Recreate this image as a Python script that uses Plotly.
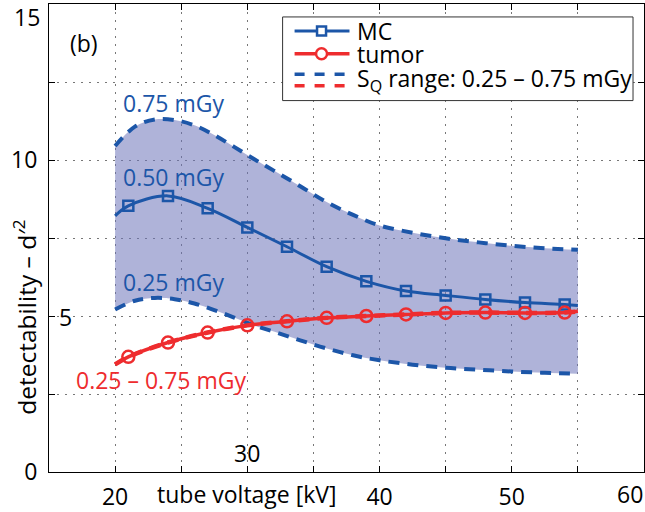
import plotly.graph_objects as go

# ---------------- data ----------------
# smooth curves: tube voltage [kV] -> detectability d'^2
curve_kv = [20, 21, 24, 27, 30, 33, 36, 39, 42, 45, 48, 51, 54, 55]
mc_curve = [8.21, 8.53, 8.85, 8.45, 7.84, 7.22, 6.58, 6.11, 5.80, 5.66, 5.53, 5.43, 5.37, 5.34]
tumor_curve = [3.45, 3.69, 4.15, 4.47, 4.70, 4.83, 4.94, 5.00, 5.05, 5.10, 5.11, 5.10, 5.11, 5.15]

# S_Q range bounds (dashed)
range_kv = [20, 21.5, 23, 24.5, 26, 27.5, 29, 30.5, 32, 34, 36, 38, 40, 42.5, 45, 47.5, 50, 52.5, 55]
mc_hi = [10.45, 11.07, 11.30, 11.28, 11.11, 10.80, 10.42, 10.03, 9.66, 9.16, 8.65, 8.24, 7.90, 7.67, 7.49, 7.36, 7.25, 7.17, 7.12]
mc_lo = [5.21, 5.49, 5.58, 5.54, 5.40, 5.19, 4.95, 4.70, 4.50, 4.22, 3.96, 3.74, 3.58, 3.44, 3.34, 3.28, 3.22, 3.18, 3.15]

x_major_ticks = [20, 40, 50]
x_minor_ticks = [25, 30, 35, 45, 55]
y_major_ticks = [0, 10]
y_minor_ticks = [2.5, 5, 7.5, 12.5, 15]

legend_labels = ["MC", "tumor", "S<sub>Q</sub> range: 0.25 \u2013 0.75 mGy"]

# ---------------- style ----------------
BLUE = "#1C56A8"
RED = "#EE2C2E"
FILL = "rgba(110,116,186,0.55)"
FONT = "Open Sans"
FS = 23

W, H = 645, 512
ML, MR, MT, MB = 49, 0, 4, 38
PW, PH = W - ML - MR, H - MT - MB


def px(x):
    return (x - ML) / PW


def py(y):
    return (MT + PH - y) / PH


fig = go.Figure()

# range band (blue)
fig.add_trace(go.Scatter(x=range_kv, y=mc_lo, mode="lines", line=dict(color=BLUE, width=4, dash="11px,8px", shape="spline"), showlegend=False))
fig.add_trace(go.Scatter(x=range_kv, y=mc_hi, mode="lines", fill="tonexty", fillcolor=FILL,
                         line=dict(color=BLUE, width=4, dash="11px,8px", shape="spline"), showlegend=False))

# MC curve
fig.add_trace(go.Scatter(x=curve_kv, y=mc_curve, mode="lines", line=dict(color=BLUE, width=3, shape="spline"), showlegend=False))
fig.add_trace(go.Scatter(x=curve_kv[1:-1], y=mc_curve[1:-1], mode="markers",
                         marker=dict(symbol="square-open", size=10, color=BLUE, line=dict(width=2.5, color=BLUE)), showlegend=False))

# tumor range (dashed red, coincides with tumor curve)
fig.add_trace(go.Scatter(x=curve_kv, y=tumor_curve, mode="lines", line=dict(color=RED, width=4.5, dash="11px,8px", shape="spline"), showlegend=False))
# tumor curve
fig.add_trace(go.Scatter(x=curve_kv, y=tumor_curve, mode="lines", line=dict(color=RED, width=3.5, shape="spline"), showlegend=False))
fig.add_trace(go.Scatter(x=curve_kv[1:-1], y=tumor_curve[1:-1], mode="markers",
                         marker=dict(symbol="circle-open", size=12, color=RED, line=dict(width=2.5, color=RED)), showlegend=False))

grid_style = dict(showgrid=True, gridcolor="#777777", gridwidth=1, griddash="1.5px,6.5px")
axis_common = dict(showline=True, linecolor="black", linewidth=1, mirror="allticks",
                   ticks="inside", ticklen=6, tickcolor="black", tickwidth=1,
                   zeroline=False, tickfont=dict(family=FONT, size=FS, color="black"), **grid_style)

fig.update_xaxes(range=[15, 60], tickvals=x_major_ticks, ticklabelstandoff=4,
                 minor=dict(tickvals=x_minor_ticks, ticks="inside", ticklen=6, tickcolor="black", tickwidth=1, **grid_style),
                 **axis_common)
fig.update_yaxes(range=[0, 15], tickvals=y_major_ticks, ticklabelstandoff=6,
                 minor=dict(tickvals=y_minor_ticks, ticks="inside", ticklen=6, tickcolor="black", tickwidth=1, **grid_style),
                 **axis_common)

ann = []


def text(s, x, y, color="black", size=FS, xanchor="center", angle=0):
    ann.append(dict(text=s, x=px(x), y=py(y), xref="paper", yref="paper", showarrow=False,
                    xanchor=xanchor, yanchor="middle", textangle=angle,
                    font=dict(family=FONT, size=size, color=color)))


text("(b)", 84, 43)
text("0.75 mGy", 174, 103, BLUE)
text("0.50 mGy", 174, 178, BLUE)
text("0.25 mGy", 174, 283, BLUE)
text("0.25 \u2013 0.75 mGy", 161, 382, RED)
text("30", 247, 455)
text("60", 631, 496)
text("5", 66, 318)
text("15", 42, 17, xanchor="right")
text("tube voltage [kV]", 247, 496)
text("detectability \u2013 d\u2032<sup>2</sup>", 25, 319, size=24.5, angle=-90)

# manual legend
shapes = []
shapes.append(dict(type="rect", xref="paper", yref="paper", x0=px(283), x1=px(634), y0=py(17), y1=py(101),
                   line=dict(color="#333333", width=1), fillcolor="white", layer="above"))
shapes.append(dict(type="line", xref="paper", yref="paper", x0=px(295), x1=px(350), y0=py(31), y1=py(31),
                   line=dict(color=BLUE, width=3)))
shapes.append(dict(type="rect", xref="paper", yref="paper", xsizemode="pixel", ysizemode="pixel",
                   xanchor=px(322), yanchor=py(31), x0=-4.5, x1=4.5, y0=-4.5, y1=4.5,
                   line=dict(color=BLUE, width=2.5), fillcolor="white"))
shapes.append(dict(type="line", xref="paper", yref="paper", x0=px(295), x1=px(350), y0=py(54), y1=py(54),
                   line=dict(color=RED, width=3.5)))
shapes.append(dict(type="circle", xref="paper", yref="paper", xsizemode="pixel", ysizemode="pixel",
                   xanchor=px(322), yanchor=py(54), x0=-5.5, x1=5.5, y0=-5.5, y1=5.5,
                   line=dict(color=RED, width=2.5), fillcolor="white"))
shapes.append(dict(type="line", xref="paper", yref="paper", x0=px(295), x1=px(350), y0=py(74.5), y1=py(74.5),
                   line=dict(color=BLUE, width=3.5, dash="10px,10px")))
shapes.append(dict(type="line", xref="paper", yref="paper", x0=px(295), x1=px(350), y0=py(86), y1=py(86),
                   line=dict(color=RED, width=3.5, dash="10px,10px")))

text(legend_labels[0], 356, 31, xanchor="left", size=23)
text(legend_labels[1], 356, 54, xanchor="left", size=23)
text(legend_labels[2], 356, 80, xanchor="left", size=23)

fig.update_layout(width=W, height=H, margin=dict(l=ML, r=MR, t=MT, b=MB),
                  plot_bgcolor="white", paper_bgcolor="white",
                  annotations=ann, shapes=shapes, showlegend=False,
                  font=dict(family=FONT, size=FS, color="black"))

fig.write_html("out.html", config={"displayModeBar": False},
               post_script="document.body.style.margin='0';")
